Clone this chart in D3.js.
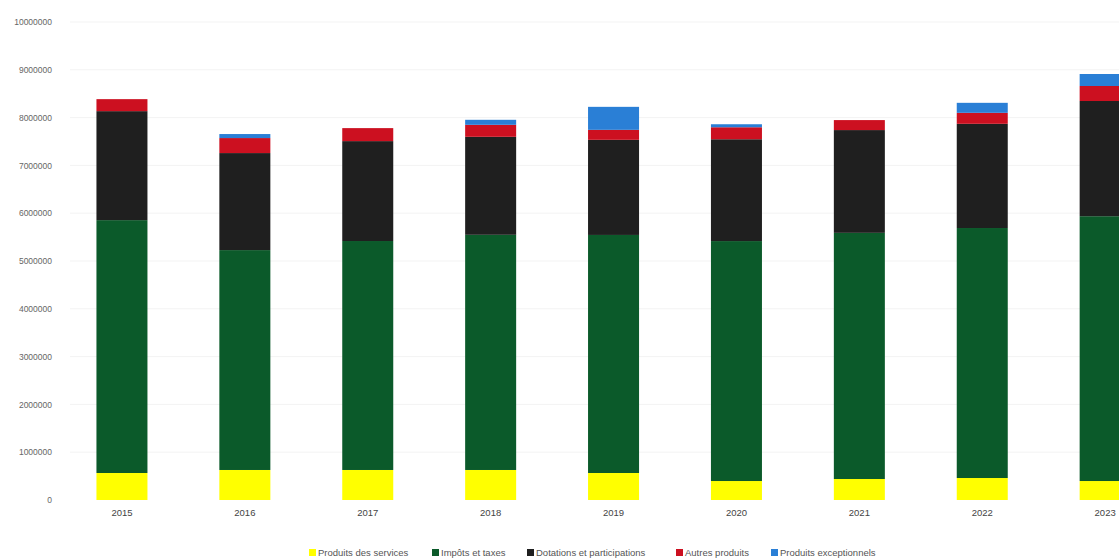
<!DOCTYPE html>
<html>
<head>
<meta charset="utf-8">
<script src="https://cdn.jsdelivr.net/npm/d3@7"></script>
<style>
  html, body { margin: 0; padding: 0; background: #fff; overflow: hidden; }
  svg { display: block; }
  text { font-family: "Liberation Sans", "DejaVu Sans", sans-serif; }
</style>
</head>
<body>
<svg id="chart" width="1119" height="559"></svg>
<script>
const years = ["2015", "2016", "2017", "2018", "2019", "2020", "2021", "2022", "2023"];
const seriesNames = ["Produits des services", "Impôts et taxes", "Dotations et participations", "Autres produits", "Produits exceptionnels"];
const seriesColors = ["#ffff00", "#0b5a2a", "#1f1f1f", "#cc1020", "#2a7fd6"];
const produitsServices = [565000, 628000, 628000, 628000, 565000, 397000, 439000, 460000, 397000];
const impotsTaxes = [5290000, 4600000, 4790000, 4920000, 4980000, 5020000, 5150000, 5230000, 5540000];
const dotations = [2280000, 2030000, 2090000, 2050000, 1990000, 2130000, 2150000, 2180000, 2410000];
const autresProduits = [251000, 314000, 272000, 251000, 209000, 251000, 209000, 230000, 314000];
const produitsExceptionnels = [0, 84000, 0, 105000, 481000, 63000, 0, 209000, 251000];
const yTicks = [0, 1000000, 2000000, 3000000, 4000000, 5000000, 6000000, 7000000, 8000000, 9000000, 10000000];

const keys = ["s0", "s1", "s2", "s3", "s4"];
const allSeries = [produitsServices, impotsTaxes, dotations, autresProduits, produitsExceptionnels];
const table = years.map((y, i) => {
  const row = { year: y };
  keys.forEach((k, j) => row[k] = allSeries[j][i]);
  return row;
});

const svg = d3.select("#chart");
const x = d3.scaleBand().domain(years).range([60.5, 1166.6]).paddingInner(0.585).paddingOuter(0.2925);
const y = d3.scaleLinear().domain([0, 10000000]).range([500, 22]);

// faint gridlines
svg.append("g").selectAll("line").data(yTicks.slice(1)).join("line")
  .attr("x1", 70).attr("x2", 1119)
  .attr("y1", d => y(d)).attr("y2", d => y(d))
  .attr("stroke", "#f3f3f3").attr("stroke-width", 1);

// y axis labels
const yAxis = d3.axisLeft(y).tickValues(yTicks).tickSize(0).tickPadding(0).tickFormat(d3.format("d"));
const gy = svg.append("g").attr("transform", "translate(52,0)").call(yAxis);
gy.select(".domain").remove();
gy.selectAll("text").attr("font-size", 8.5).attr("fill", "#666").attr("dy", "0.32em");

// stacked bars
const stack = d3.stack().keys(keys)(table);
svg.append("g").selectAll("g").data(stack).join("g")
  .attr("fill", (d, i) => seriesColors[i])
  .selectAll("rect").data(d => d).join("rect")
  .attr("x", d => x(d.data.year))
  .attr("width", x.bandwidth())
  .attr("y", d => y(d[1]))
  .attr("height", d => Math.max(0, y(d[0]) - y(d[1])));

// x axis labels
const xAxis = d3.axisBottom(x).tickSize(0).tickPadding(0);
const gx = svg.append("g").attr("transform", "translate(0,509)").call(xAxis);
gx.select(".domain").remove();
gx.selectAll("text").attr("font-size", 9.5).attr("fill", "#444").attr("dy", "0.71em");

// legend
const legendX = [309, 432, 527, 676, 771];
const legend = svg.append("g").attr("transform", "translate(0,553)");
const li = legend.selectAll("g").data(seriesNames).join("g")
  .attr("transform", (d, i) => `translate(${legendX[i]},0)`);
li.append("rect").attr("x", 0).attr("y", -4).attr("width", 7).attr("height", 7)
  .attr("fill", (d, i) => seriesColors[i]);
li.append("text").attr("x", 9).attr("y", 0).attr("dy", "0.32em")
  .attr("font-size", 9.5).attr("fill", "#555").text(d => d);
</script>
</body>
</html>
